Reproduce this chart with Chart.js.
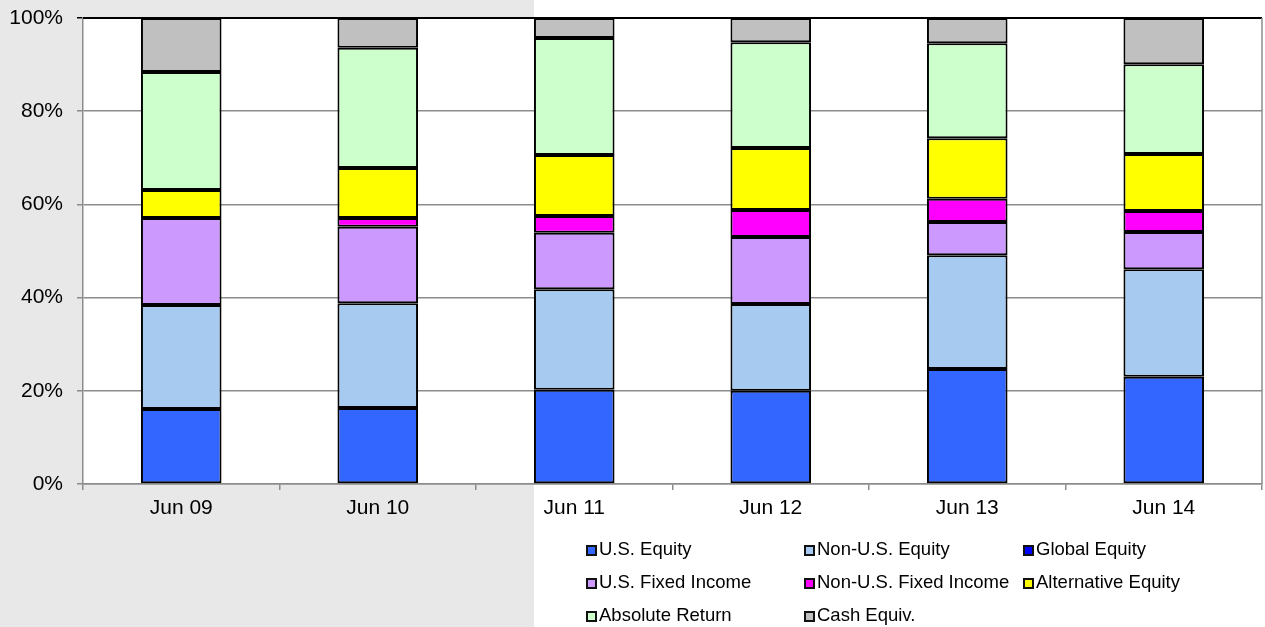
<!DOCTYPE html>
<html>
<head>
<meta charset="utf-8">
<script src="https://cdn.jsdelivr.net/npm/chart.js@4/dist/chart.umd.min.js"></script>
<style>
	html, body { margin: 0; padding: 0; }
	body { width: 1265px; height: 627px; position: relative; overflow: hidden; font-family: 'Liberation Sans', Arial, sans-serif; }
	#wrap { position: absolute; left: 0; top: 0; width: 1265px; height: 627px; }
	#legend { position: absolute; left: 0; top: 0; width: 1265px; height: 627px; pointer-events: none; }
	.mark { position: absolute; width: 7px; height: 7px; border: 2px solid #111; }
	.txt { position: absolute; font-size: 18.5px; line-height: 22px; color: #000; white-space: nowrap; }
</style>
</head>
<body>
<div id="wrap"><canvas id="chart-area" width="1265" height="627"></canvas></div>
<div id="legend"></div>
<script>
var categories = ['Jun 09', 'Jun 10', 'Jun 11', 'Jun 12', 'Jun 13', 'Jun 14'];
var seriesNames = ['U.S. Equity', 'Non-U.S. Equity', 'Global Equity', 'U.S. Fixed Income', 'Non-U.S. Fixed Income', 'Alternative Equity', 'Absolute Return', 'Cash Equiv.'];
var seriesColors = ['#3366FF', '#A6CAF0', '#0000FF', '#CC99FF', '#FF00FF', '#FFFF00', '#CCFFCC', '#C0C0C0'];

var usEquity       = [16.1, 16.3, 20.2, 20.0, 24.7, 23.0];
var nonUsEquity    = [22.3, 22.5, 21.6, 18.6, 24.4, 23.1];
var globalEquity   = [0, 0, 0, 0, 0, 0];
var usFixed        = [18.7, 16.4, 12.1, 14.4, 7.1, 8.0];
var nonUsFixed     = [0, 1.9, 3.6, 5.8, 5.0, 4.5];
var altEquity      = [6.0, 10.7, 13.1, 13.3, 13.0, 12.2];
var absoluteReturn = [25.3, 25.8, 25.1, 22.7, 20.4, 19.3];
var cashEquiv      = [11.6, 6.4, 4.3, 5.2, 5.4, 9.9];

var yTicks = [0, 20, 40, 60, 80, 100];

var seriesValues = [usEquity, nonUsEquity, globalEquity, usFixed, nonUsFixed, altEquity, absoluteReturn, cashEquiv];

var datasets = seriesNames.map(function(name, i) {
	return {
		label: name,
		data: seriesValues[i],
		backgroundColor: seriesColors[i],
		borderColor: '#000',
		borderWidth: function(c) { return c.raw ? 2 : 0; },
		borderSkipped: false,
		barPercentage: 0.41,
		categoryPercentage: 1.0
	};
});

var backdrop = {
	id: 'backdrop',
	beforeDraw: function(chart) {
		var c = chart.ctx, a = chart.chartArea;
		c.save();
		c.fillStyle = '#fff';
		c.fillRect(0, 0, chart.width, chart.height);
		c.fillStyle = '#e8e8e8';
		c.fillRect(0, 0, 534, chart.height);
		c.fillStyle = '#fff';
		c.fillRect(a.left, a.top, a.right - a.left, a.bottom - a.top);
		c.restore();
	},
	afterDatasetsDraw: function(chart) {
		var c = chart.ctx, a = chart.chartArea;
		c.save();
		c.strokeStyle = '#000';
		c.lineWidth = 2;
		c.beginPath();
		c.moveTo(a.left, a.top);
		c.lineTo(a.right, a.top);
		c.stroke();
		c.strokeStyle = '#8c8c8c';
		c.lineWidth = 1.5;
		c.beginPath();
		c.moveTo(a.right, a.top);
		c.lineTo(a.right, a.bottom);
		c.stroke();
		c.restore();
	}
};

var config = {
	type: 'bar',
	data: { labels: categories, datasets: datasets },
	options: {
		responsive: false,
		animation: false,
		layout: { padding: { top: 18, right: 3, bottom: 0, left: 0 } },
		plugins: { legend: { display: false }, tooltip: { enabled: false } },
		scales: {
			x: {
				stacked: true,
				afterFit: function(s) { s.height = 143; },
				grid: { display: true, drawOnChartArea: false, drawTicks: true, tickLength: 6, color: '#8c8c8c', lineWidth: 1.5, offset: true },
				border: { display: true, color: '#8c8c8c', width: 1.5 },
				ticks: { color: '#000', font: { family: 'Liberation Sans', size: 21 }, padding: 6 }
			},
			y: {
				stacked: true,
				min: 0,
				max: 100,
				afterFit: function(s) { s.width = 83; s.paddingTop = 0; s.paddingBottom = 0; },
				afterBuildTicks: function(s) { s.ticks = yTicks.map(function(v) { return { value: v }; }); },
				grid: {
					color: function(ctx) { return ctx.tick && ctx.tick.value === 100 ? '#000' : '#8c8c8c'; },
					lineWidth: 1.5,
					tickLength: 6
				},
				border: { display: true, color: '#8c8c8c', width: 1.5 },
				ticks: {
					color: '#000',
					font: { family: 'Liberation Sans', size: 21 },
					padding: 14,
					callback: function(v) { return v + '%'; }
				}
			}
		}
	},
	plugins: [backdrop]
};

var ctx = document.getElementById('chart-area').getContext('2d');
var chart = new Chart(ctx, config);

// legend in three columns
var legendCols = [586, 804, 1023];
var legendRows = [550, 583, 616];
var legendHtml = '';
seriesNames.forEach(function(name, i) {
	var col = i % 3, row = Math.floor(i / 3);
	var x = legendCols[col], y = legendRows[row];
	legendHtml += '<div class="mark" style="left:' + x + 'px;top:' + (y - 5) + 'px;background:' + seriesColors[i] + '"></div>';
	legendHtml += '<div class="txt" style="left:' + (x + 13) + 'px;top:' + (y - 12) + 'px">' + name + '</div>';
});
document.getElementById('legend').innerHTML = legendHtml;
</script>
</body>
</html>
